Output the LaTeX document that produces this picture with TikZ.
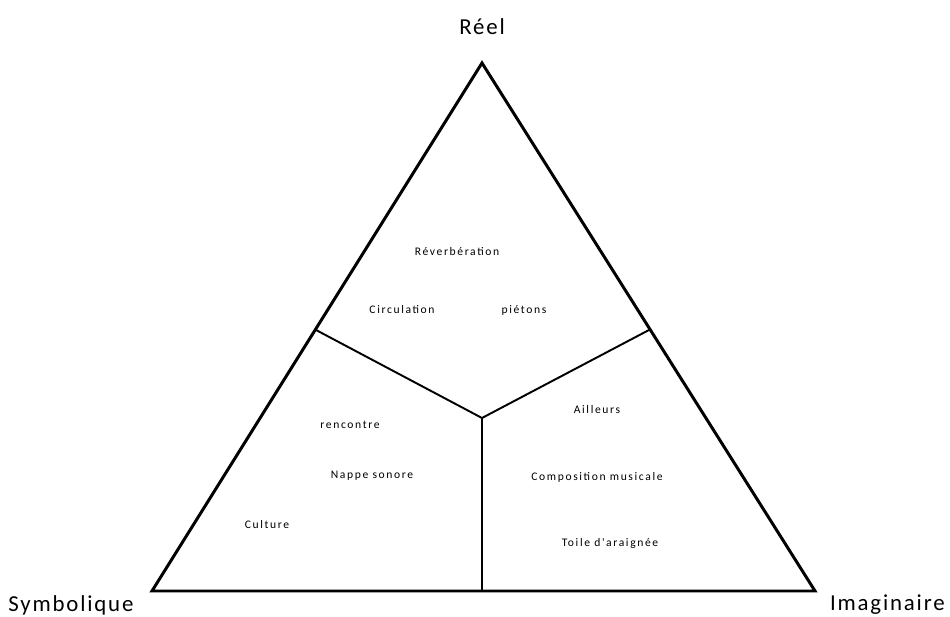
\documentclass[tikz,border=0pt]{standalone}
\usepackage{fontspec}
\setmainfont{Carlito}
\newfontfamily\smallfnt[LetterSpace=14]{Carlito}
\newfontfamily\bigfnt[LetterSpace=8]{Carlito}
\usepackage{tikz}
\usetikzlibrary{positioning,calc}

\tikzset{
  pole/.style={font=\bigfnt\fontsize{13}{15}\selectfont,inner sep=0pt},
  word/.style={font=\smallfnt\fontsize{6.6}{8}\selectfont,inner sep=0pt},
  side/.style={line width=1.7pt,line join=miter},
  split/.style={line width=1.1pt}
}

\begin{document}
\begin{tikzpicture}[x=0.02cm,y=-0.02cm]
      \useasboundingbox (0,0) rectangle (950,617);
      \coordinate (r) at (482,63);
      \coordinate (s) at (152,591);
      \coordinate (i) at (815,591);
      \coordinate (m) at (482,418);
      \coordinate (sr) at (316,330);
      \coordinate (ir) at (649,330);
      \coordinate (si) at (482,591);

      % the three poles
      \node[pole] (reel) at (482,27) {Réel};
      \node[pole,anchor=west] (symb) at (8,605) {Symbolique};
      \node[pole,anchor=east] (imag) at (945,605) {Imaginaire};

      \draw[side] (r) -- (s) -- (i) -- cycle;
      \draw[split] (sr) -- (m) -- (ir);
      \draw[split] (m) -- (si);

      % words, real part
      \node[word] (reverb) at (457,252) {Réverbération};
      \node[word] (circ) at (402,310) {Circulation};
      \node[word] (piet) at (524,310) {piétons};

      % symbolic part
      \node[word] (renc) at (350,425) {rencontre};
      \node[word] (nappe) at (372,476) {Nappe sonore};
      \node[word] (cult) at (267,525) {Culture};

      % imaginary part
      \node[word] (ailleurs) at (597,410) {Ailleurs};
      \node[word] (compo) at (597,477) {Composition musicale};
      \node[word] (toile) at (610,543) {Toile d'araignée};

    \end{tikzpicture}
\end{document}
